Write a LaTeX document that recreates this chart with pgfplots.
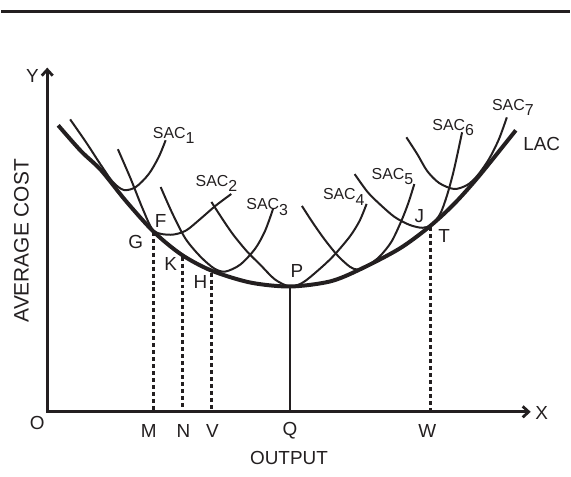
\documentclass[border=0pt]{standalone}
\usepackage{pgfplots}
\pgfplotsset{compat=1.18}
\usepackage{fontspec}
\setmainfont{Liberation Sans}
\usetikzlibrary{arrows.meta}

\definecolor{ink}{HTML}{231F20}
\newcommand{\sac}[1]{SAC\raisebox{-0.35em}{#1}}
\tikzset{
    big/.style={font=\fontsize{19}{21}\selectfont, text=ink},
    small/.style={font=\fontsize{16}{18}\selectfont, text=ink, anchor=base west, inner sep=0pt},
}

\begin{document}
\begin{tikzpicture}
\begin{axis}[
    x=1pt, y=1pt,
    xmin=-46, xmax=525, ymin=-65, ymax=414,
    scale only axis, hide axis, clip=false,
    every axis plot/.append style={no marks, ink},
]
\path (axis cs:-46,-65) rectangle (axis cs:525,414);

% top rule
\draw[ink, line width=3pt] (axis cs:-46,402) -- (axis cs:525,402);

% axes
\draw[ink, line width=2.8pt, line join=miter,
      {Straight Barb[length=6pt,width=11pt]}-{Straight Barb[length=6pt,width=11pt]}]
    (axis cs:0,346) -- (axis cs:0,0) -- (axis cs:486,0);

% LAC
\addplot[smooth, line width=4pt] coordinates {
    (11,288) (34,262) (54,243) (79,212) (107,181) (135,158) (165,142)
    (204,130) (244,126) (284,131) (314,143) (354,164) (384,186)
    (409,209) (434,237) (471,283)
};

% SAC1 .. SAC7
\addplot[smooth, line width=2pt] coordinates {
    (23,294) (39,271) (54,248) (66,231) (77,223) (89,226) (102,239) (112,256) (119,273)
};
\addplot[smooth, line width=2pt] coordinates {
    (71,264) (84,234) (96,204) (107,182) (124,178) (139,182) (154,194) (169,207) (185,219)
};
\addplot[smooth, line width=2pt] coordinates {
    (114,226) (126,199) (139,174) (154,156) (168,144) (179,141) (194,148) (209,164) (219,182) (227,204)
};
\addplot[smooth, line width=2pt] coordinates {
    (165,211) (176,194) (187,178) (201,161) (214,148) (229,133) (244,126)
    (257,130) (272,142) (287,156) (304,176) (314,192) (321,209)
};
\addplot[smooth, line width=2pt] coordinates {
    (256,207) (267,190) (279,173) (292,157) (304,146) (312,143) (322,147)
    (334,156) (346,171) (356,192) (363,210) (369,229)
};
\addplot[smooth, line width=2pt] coordinates {
    (309,239) (322,221) (334,209) (349,196) (364,188) (377,185) (386,188)
    (395,199) (402,218) (409,244) (417,281)
};
\addplot[smooth, line width=2pt] coordinates {
    (361,276) (372,259) (382,242) (394,230) (409,224) (422,228) (432,237)
    (444,254) (454,274) (462,296)
};

% drop lines
\addplot[line width=2.8pt, dash pattern=on 4pt off 3pt] coordinates {(107,181) (107,0)};
\addplot[line width=2.8pt, dash pattern=on 4pt off 3pt] coordinates {(136,156) (136,0)};
\addplot[line width=2.8pt, dash pattern=on 4pt off 3pt] coordinates {(165,140) (165,0)};
\addplot[line width=2.8pt, dash pattern=on 4pt off 3pt] coordinates {(385,186) (385,0)};
\addplot[line width=2.8pt] coordinates {(244,126) (244,0)};

% axis letters
\node[big] at (axis cs:-15,338) {Y};
\node[big] at (axis cs:497,-1) {X};
\node[big] at (axis cs:-10,-11) {O};
\node[big] at (axis cs:102,-19) {M};
\node[big] at (axis cs:137,-19) {N};
\node[big] at (axis cs:166,-19) {V};
\node[big] at (axis cs:244,-19) {Q};
\node[big] at (axis cs:382,-19) {W};
\node[big] at (axis cs:243,-46) {OUTPUT};
\node[big, font=\fontsize{21}{23}\selectfont, rotate=90] at (axis cs:-26,172) {AVERAGE COST};

% point labels
\node[big] at (axis cs:89,171) {G};
\node[big] at (axis cs:114,192) {F};
\node[big] at (axis cs:124,149) {K};
\node[big] at (axis cs:154,131) {H};
\node[big] at (axis cs:251,142) {P};
\node[big] at (axis cs:374,197) {J};
\node[big] at (axis cs:399,177) {T};
\node[big] at (axis cs:497,269) {LAC};

% curve labels
\node[small] at (axis cs:106,275) {\sac{1}};
\node[small] at (axis cs:149,227) {\sac{2}};
\node[small] at (axis cs:200,203) {\sac{3}};
\node[small] at (axis cs:277,213) {\sac{4}};
\node[small] at (axis cs:326,234) {\sac{5}};
\node[small] at (axis cs:387,283) {\sac{6}};
\node[small] at (axis cs:447,303) {\sac{7}};
\end{axis}
\end{tikzpicture}
\end{document}
